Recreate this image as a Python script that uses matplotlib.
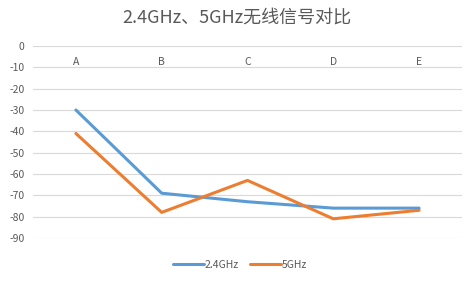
import matplotlib
matplotlib.use("Agg")
import matplotlib.pyplot as plt

plt.rcParams['font.family'] = ['Noto Sans CJK SC', 'DejaVu Sans']

categories = ['A', 'B', 'C', 'D', 'E']
ghz24 = [-30, -69, -73, -76, -76]
ghz5 = [-41, -78, -63, -81, -77]
yticks = [0, -10, -20, -30, -40, -50, -60, -70, -80, -90]

fig = plt.figure(figsize=(4.73, 2.82), dpi=100)
ax = fig.add_axes([33 / 473, 1 - 238 / 282, 429 / 473, 192 / 282])

x = range(len(categories))
ax.plot(x, ghz24, color='#5B9BD5', lw=2.2, label='2.4GHz', solid_capstyle='round')
ax.plot(x, ghz5, color='#ED7D31', lw=2.2, label='5GHz', solid_capstyle='round')

ax.set_xlim(-0.5, len(categories) - 0.5)
ax.set_ylim(-90, 0)
ax.set_yticks(yticks)
ax.set_yticklabels([str(v) for v in yticks])
ax.grid(axis='y', color='#D9D9D9', lw=0.8)
ax.set_axisbelow(True)

# category labels sit under the 0 line, like an Excel axis crossing at 0
ax.spines['bottom'].set_position(('data', 0))
for s in ax.spines.values():
    s.set_visible(False)
ax.set_xticks(list(x))
ax.set_xticklabels(categories)
ax.tick_params(axis='x', length=0, pad=8, labelsize=7.5, labelcolor='#595959')
ax.tick_params(axis='y', length=0, pad=6, labelsize=7.5, labelcolor='#595959')

fig.suptitle('2.4GHz、5GHz无线信号对比', y=1 - 18 / 282, va='center',
             fontsize=13, color='#595959')

fig.legend(loc='center', bbox_to_anchor=(240 / 473, 1 - 265 / 282), ncol=2,
           frameon=False, fontsize=7.5, labelcolor='#595959',
           handlelength=3.0, handletextpad=0.1, columnspacing=1.0)

fig.savefig('out.png', dpi=100)
